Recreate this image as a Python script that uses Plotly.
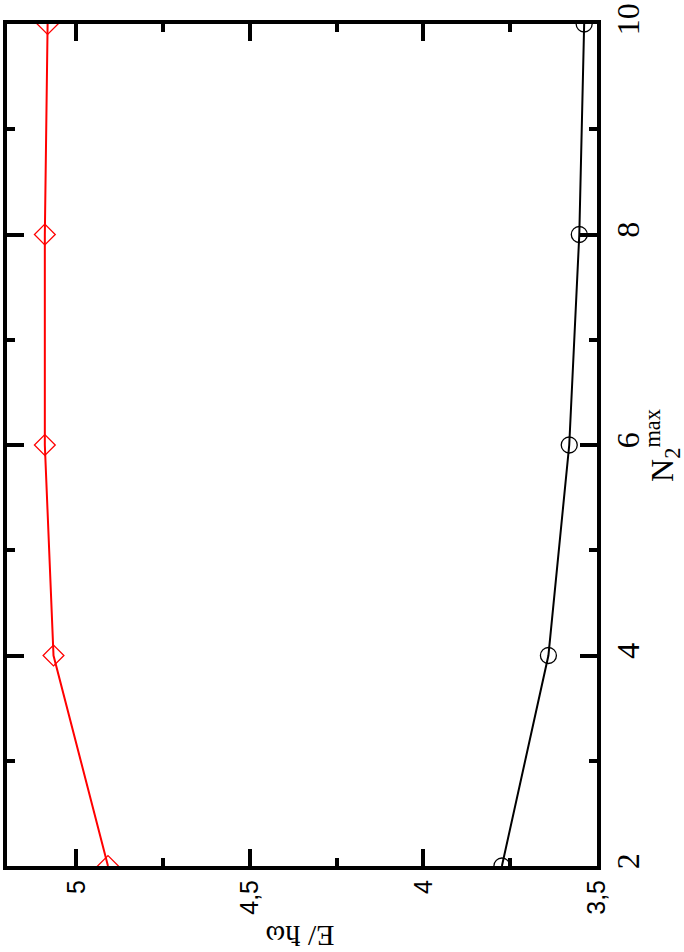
import plotly.graph_objects as go

n2max = [2, 4, 6, 8, 10]
e_red = [4.909, 5.066, 5.091, 5.091, 5.083]
e_black = [3.774, 3.640, 3.580, 3.551, 3.537]

e_ticks = [3.5, 4, 4.5, 5]
e_ticktext = ["3,5", "4", "4,5", "5"]
e_minor = [3.75, 4.25, 4.75]
n_ticks = [2, 4, 6, 8, 10]
n_minor = [3, 5, 7, 9]

fig = go.Figure()
fig.add_trace(go.Scatter(
    x=e_red, y=n2max, mode="lines+markers",
    line=dict(color="#ff0000", width=2),
    marker=dict(symbol="diamond-open", size=16, color="#ff0000", line=dict(width=1.3, color="#ff0000")),
    showlegend=False))
fig.add_trace(go.Scatter(
    x=e_black, y=n2max, mode="lines+markers",
    line=dict(color="#000000", width=2),
    marker=dict(symbol="circle-open", size=16, color="#000000", line=dict(width=1.3, color="#000000")),
    showlegend=False))

fig.update_layout(
    width=684, height=952,
    margin=dict(l=3, r=87, t=15, b=86),
    paper_bgcolor="white", plot_bgcolor="white",
    separators=", ",
    xaxis=dict(
        range=[5.2, 3.5], tickvals=e_ticks, ticktext=e_ticktext,
        ticks="inside", ticklen=17, tickwidth=3.5, tickcolor="black",
        minor=dict(tickvals=e_minor, ticks="inside", ticklen=8, tickwidth=3.5, tickcolor="black"),
        showline=True, linewidth=4, linecolor="black", mirror="allticks",
        showgrid=False, zeroline=False, tickangle=-90, ticklabeloverflow="allow",
        tickfont=dict(family="Liberation Sans", size=25, color="black"),
    ),
    yaxis=dict(
        range=[2, 10], side="right", tickvals=n_ticks,
        ticks="inside", ticklen=17, tickwidth=3.5, tickcolor="black",
        minor=dict(tickvals=n_minor, ticks="inside", ticklen=8, tickwidth=3.5, tickcolor="black"),
        showline=True, linewidth=4, linecolor="black", mirror="allticks",
        showgrid=False, zeroline=False, tickangle=-90, ticklabeloverflow="allow",
        tickfont=dict(family="Liberation Serif", size=32, color="black"),
    ),
    annotations=[
        dict(text="E/ ħω", xref="paper", yref="paper", x=0.497, y=-0.0835,
             showarrow=False, textangle=180, xanchor="center", yanchor="middle",
             font=dict(family="Liberation Serif", size=30, color="black")),
        dict(text="N<sub>2</sub><sup>max</sup>", xref="paper", yref="paper", x=1.11, y=0.5,
             showarrow=False, textangle=-90, xanchor="center", yanchor="middle",
             font=dict(family="Liberation Serif", size=32, color="black")),
    ],
)

fig.write_html("out.html", config={"displayModeBar": False},
               post_script="document.body.style.margin='0';document.body.style.overflow='hidden';")
